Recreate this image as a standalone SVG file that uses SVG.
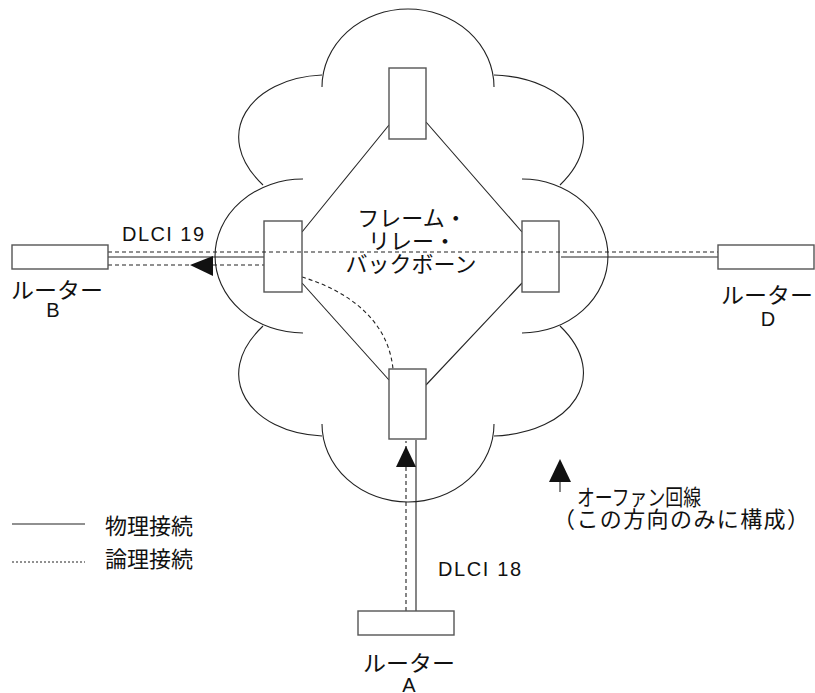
<svg xmlns="http://www.w3.org/2000/svg" width="815" height="693" viewBox="0 0 815 693">
<style>
.cl{fill:none;stroke:#222;stroke-width:1.1}
.box{fill:#fff;stroke:#555;stroke-width:1.4}
.ph{fill:none;stroke:#222;stroke-width:1.1}
.lg{fill:none;stroke:#222;stroke-width:1.1;stroke-dasharray:4 3}
.ah{fill:#111;stroke:none}
.jp{font-family:"Noto Sans CJK JP","Liberation Sans",sans-serif;font-size:22px;fill:#111}
.tt{font-family:"Noto Sans CJK JP","Liberation Sans",sans-serif;font-size:22px;fill:#111}
.en{font-family:"Liberation Sans","DejaVu Sans",sans-serif;font-size:20px;fill:#111}
</style>
<rect width="815" height="693" fill="#fff"/>
<g id="cloud">
<path class="cl" d="M322,87 A86,78 0 0 1 494,87"/>
<path class="cl" d="M322,75 C250,78 210,135 263,185"/>
<path class="cl" d="M494,75 C572,78 612,135 560,185"/>
<path class="cl" d="M303,179 A88,77 0 0 0 303,333"/>
<path class="cl" d="M522,179 A86,77 0 0 1 522,333"/>
<path class="cl" d="M263,326 C210,376 250,433 322,436"/>
<path class="cl" d="M560,326 C612,376 572,433 494,436"/>
<path class="cl" d="M322,424 A86,78 0 0 0 494,424"/>
</g>
<g id="connectors">
<line class="ph" x1="389" y1="125" x2="302" y2="232"/>
<line class="ph" x1="426" y1="122" x2="522" y2="232"/>
<line class="ph" x1="302" y1="283" x2="389" y2="380"/>
<line class="ph" x1="522" y1="283" x2="426" y2="385"/>
<line class="ph" x1="108" y1="257" x2="264" y2="257"/>
<line class="ph" x1="561" y1="257" x2="718" y2="257"/>
<line class="ph" x1="416" y1="440" x2="416" y2="611"/>
<path class="lg" d="M302,277 C345,290 388,318 393,369"/>
<line class="lg" x1="406" y1="611" x2="406" y2="441"/>
<line class="lg" x1="108" y1="265" x2="264" y2="265"/>
<polygon class="ah" points="190,265 213,256 213,276"/>
<polygon class="ah" points="406,446 396,467 416,467"/>
</g>
<g id="switch-top"><rect class="box" x="389" y="68" width="37" height="71"/></g>
<g id="switch-left"><rect class="box" x="264" y="221" width="38" height="71"/></g>
<g id="switch-right"><rect class="box" x="522" y="221" width="37" height="71"/></g>
<g id="switch-bottom"><rect class="box" x="389" y="369" width="37" height="70"/></g>
<line class="lg" x1="108" y1="252" x2="718" y2="252"/>
<g id="router-b">
<rect class="box" x="12" y="245" width="96" height="24"/>
<text class="jp" x="57" y="298" text-anchor="middle" textLength="92" lengthAdjust="spacingAndGlyphs">ルーター</text>
<text class="en" x="53" y="317" text-anchor="middle">B</text>
</g>
<g id="router-d">
<rect class="box" x="718" y="245" width="96" height="24"/>
<text class="jp" x="767" y="303" text-anchor="middle" textLength="92" lengthAdjust="spacingAndGlyphs">ルーター</text>
<text class="en" x="768" y="326" text-anchor="middle">D</text>
</g>
<g id="router-a">
<rect class="box" x="358" y="611" width="96" height="24"/>
<text class="jp" x="409" y="671" text-anchor="middle" textLength="92" lengthAdjust="spacingAndGlyphs">ルーター</text>
<text class="en" x="409" y="692" text-anchor="middle">A</text>
</g>
<g id="labels">
<text class="en" x="122" y="241" textLength="82" lengthAdjust="spacing">DLCI 19</text>
<text class="en" x="438" y="576" textLength="83" lengthAdjust="spacing">DLCI 18</text>
<text class="tt" text-anchor="middle"><tspan x="412" y="226">フレーム・</tspan><tspan x="412" y="249">リレー・</tspan><tspan x="411" y="272">バックボーン</tspan></text>
</g>
<g id="orphan-legend">
<polygon class="ah" points="560,459 549,482 571,482"/>
<line class="ph" x1="560" y1="482" x2="560" y2="492"/>
<text class="jp" x="577" y="505" textLength="124" lengthAdjust="spacingAndGlyphs">オーファン回線</text>
<text class="jp" x="553" y="527" textLength="256" lengthAdjust="spacing">（この方向のみに構成）</text>
</g>
<g id="legend">
<line class="ph" x1="12" y1="524" x2="85" y2="524"/>
<line x1="12" y1="562" x2="85" y2="562" stroke="#222" stroke-width="1" stroke-dasharray="2 2"/>
<text class="jp" x="105" y="534">物理接続</text>
<text class="jp" x="105" y="567">論理接続</text>
</g>
</svg>
